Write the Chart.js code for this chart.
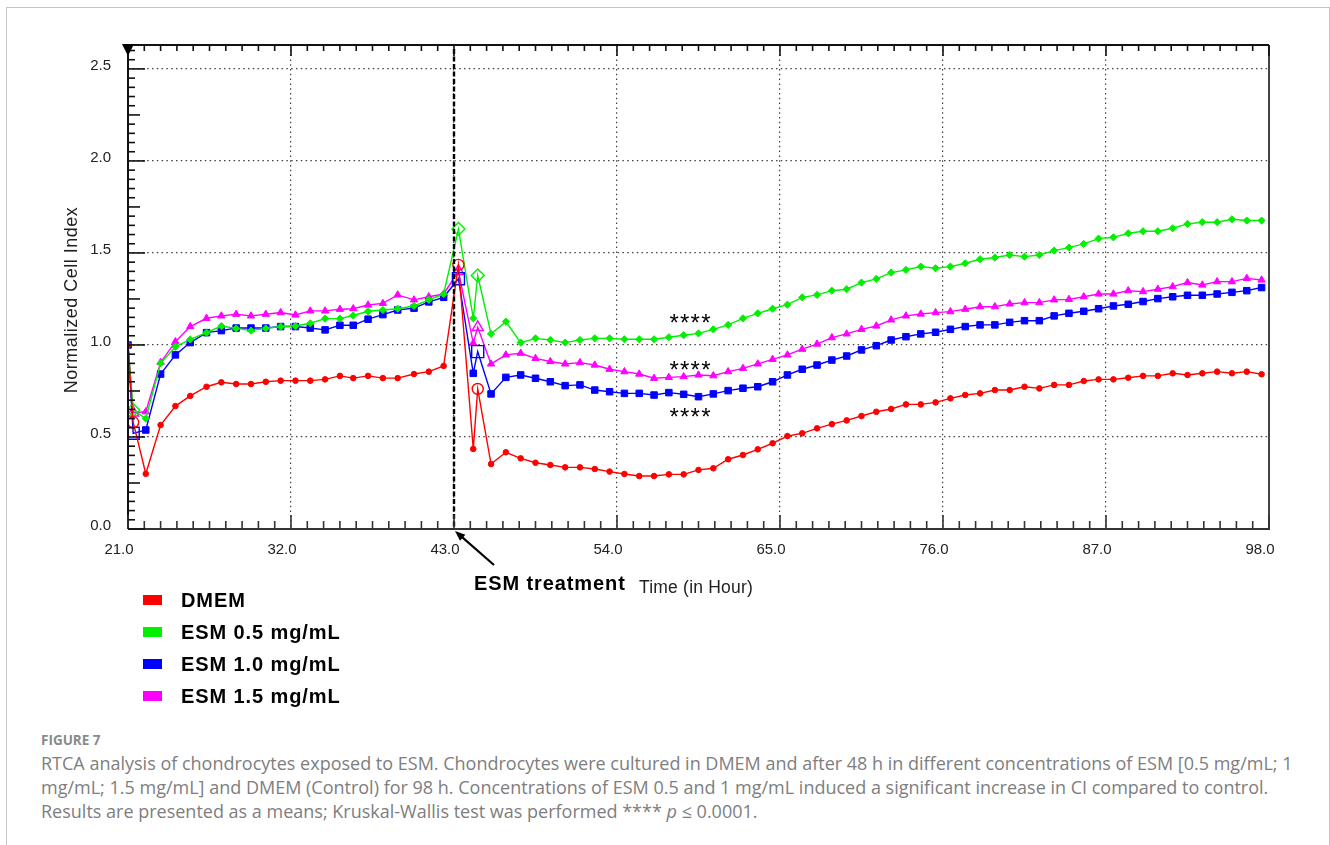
<!DOCTYPE html>
<html>
<head>
<meta charset="utf-8">
<script src="https://cdn.jsdelivr.net/npm/chart.js@4.4.1/dist/chart.umd.min.js"></script>
<style>
  html, body { margin: 0; padding: 0; background: #fff; }
  body { width: 1330px; height: 845px; position: relative; overflow: hidden; font-family: "Liberation Sans", Arial, sans-serif; }
  #frame { position: absolute; left: 6px; top: 7px; width: 1322px; height: 900px; border: 1px solid #c4c4c4; border-bottom: none; }
  #chartBox { position: absolute; left: 0; top: 0; width: 1330px; height: 620px; }
  .leg { position: absolute; left: 143px; height: 24px; white-space: nowrap; font: bold 20px "Liberation Sans", Arial, sans-serif; letter-spacing: 0.9px; color: #000; }
  .leg i { position: absolute; left: 0; top: 7px; width: 19px; height: 10px; }
  .leg span { position: absolute; left: 38px; top: 0; line-height: 24px; }
  .cap { position: absolute; left: 41px; white-space: nowrap; font-family: "Open Sans", sans-serif; color: #7e7e7e; }
  .fig { font-size: 13.5px; font-weight: 700; color: #8a8a8a; line-height: 18px; }
  .line { font-size: 18px; line-height: 24px; }
</style>
</head>
<body>
<div id="frame"></div>
<div id="chartBox"><canvas id="rtcaChart"></canvas></div>
<div id="legend"></div>
<div class="cap fig" style="top:731px">FIGURE 7</div>
<div class="cap line" style="top:751px">RTCA analysis of chondrocytes exposed to ESM. Chondrocytes were cultured in DMEM and after 48 h in different concentrations of ESM [0.5 mg/mL; 1</div>
<div class="cap line" style="top:775px">mg/mL; 1.5 mg/mL] and DMEM (Control) for 98 h. Concentrations of ESM 0.5 and 1 mg/mL induced a significant increase in CI compared to control.</div>
<div class="cap line" style="top:799px">Results are presented as a means; Kruskal-Wallis test was performed **** <i>p</i> ≤ 0.0001.</div>
<script>
// time points (h)
const HOURS = [21.0, 21.35, 22.2, 23.2, 24.2, 25.2, 26.3, 27.3, 28.3, 29.3, 30.3, 31.3, 32.3, 33.3, 34.3, 35.3, 36.2, 37.2, 38.2, 39.2, 40.3, 41.3, 42.3,
  43.3, 44.3, 44.6,
  45.5, 46.5, 47.5, 48.5, 49.5, 50.5, 51.5, 52.5, 53.5, 54.5, 55.5, 56.5, 57.5, 58.5, 59.5, 60.5, 61.5, 62.5, 63.5, 64.5, 65.5, 66.5, 67.5, 68.5,
  69.5, 70.5, 71.5, 72.5, 73.5, 74.5, 75.5, 76.5, 77.5, 78.5, 79.5, 80.5, 81.5, 82.5, 83.5, 84.5, 85.5, 86.5, 87.5, 88.5, 89.5, 90.5, 91.5, 92.5, 93.5, 94.5, 95.5, 96.5, 97.5];

const DMEM = [1.00, 0.58,
  0.300, 0.565, 0.668, 0.723, 0.773, 0.797, 0.788, 0.788, 0.800, 0.806, 0.806, 0.806, 0.813, 0.832, 0.820, 0.832, 0.820, 0.820, 0.842, 0.855, 0.886,
  1.435, 0.435, 0.761,
  0.353, 0.417, 0.384, 0.360, 0.348, 0.335, 0.335, 0.326, 0.312, 0.299, 0.288, 0.288, 0.297, 0.297, 0.321, 0.330, 0.379, 0.402, 0.433, 0.466, 0.505, 0.520, 0.547, 0.570,
  0.590, 0.614, 0.637, 0.652, 0.677, 0.677, 0.688, 0.710, 0.728, 0.737, 0.755, 0.755, 0.773, 0.764, 0.783, 0.783, 0.804, 0.813, 0.813, 0.822, 0.832, 0.832, 0.846, 0.837, 0.846, 0.855, 0.846, 0.855, 0.841];

const ESM_05 = [1.00, 0.647,
  0.600, 0.900, 0.990, 1.030, 1.067, 1.103, 1.090, 1.078, 1.090, 1.100, 1.103, 1.118, 1.143, 1.143, 1.160, 1.183, 1.190, 1.197, 1.212, 1.245, 1.277,
  1.630, 1.145, 1.377,
  1.060, 1.127, 1.013, 1.036, 1.027, 1.013, 1.027, 1.036, 1.036, 1.031, 1.031, 1.031, 1.042, 1.053, 1.063, 1.085, 1.109, 1.145, 1.172, 1.197, 1.219, 1.259, 1.272, 1.295,
  1.303, 1.339, 1.359, 1.393, 1.408, 1.426, 1.417, 1.426, 1.444, 1.466, 1.475, 1.489, 1.480, 1.489, 1.513, 1.529, 1.549, 1.578, 1.585, 1.607, 1.618, 1.618, 1.634, 1.658, 1.667, 1.667, 1.683, 1.676, 1.676];

const ESM_10 = [1.00, 0.52,
  0.538, 0.842, 0.946, 1.013, 1.067, 1.078, 1.092, 1.092, 1.092, 1.100, 1.100, 1.092, 1.082, 1.107, 1.107, 1.140, 1.165, 1.190, 1.200, 1.234, 1.259,
  1.360, 0.846, 0.964,
  0.734, 0.824, 0.837, 0.819, 0.800, 0.779, 0.783, 0.755, 0.746, 0.737, 0.737, 0.728, 0.741, 0.732, 0.719, 0.734, 0.752, 0.765, 0.773, 0.800, 0.837, 0.868, 0.891, 0.918,
  0.940, 0.973, 0.996, 1.027, 1.045, 1.060, 1.069, 1.085, 1.100, 1.109, 1.109, 1.123, 1.132, 1.132, 1.158, 1.172, 1.183, 1.197, 1.212, 1.221, 1.236, 1.252, 1.262, 1.270, 1.270, 1.277, 1.286, 1.295, 1.312];

const ESM_15 = [1.00, 0.632,
  0.637, 0.905, 1.018, 1.100, 1.145, 1.158, 1.167, 1.158, 1.167, 1.176, 1.163, 1.185, 1.185, 1.194, 1.197, 1.217, 1.226, 1.272, 1.245, 1.262, 1.277,
  1.400, 1.010, 1.096,
  0.897, 0.946, 0.955, 0.927, 0.910, 0.897, 0.904, 0.891, 0.868, 0.855, 0.842, 0.819, 0.824, 0.828, 0.837, 0.833, 0.855, 0.873, 0.897, 0.922, 0.946, 0.977, 1.005, 1.040,
  1.060, 1.085, 1.103, 1.136, 1.158, 1.168, 1.176, 1.181, 1.194, 1.208, 1.208, 1.223, 1.230, 1.230, 1.245, 1.248, 1.262, 1.277, 1.277, 1.295, 1.290, 1.303, 1.317, 1.339, 1.326, 1.344, 1.344, 1.362, 1.353];

const SERIES_NAMES = ['DMEM', 'ESM 0.5 mg/mL', 'ESM 1.0 mg/mL', 'ESM 1.5 mg/mL'];
const X_TICKS = [21, 32, 43, 54, 65, 76, 87, 98];
const Y_TICKS = [0, 0.5, 1.0, 1.5, 2.0, 2.5];
const TREATMENT_HOUR = 43.0;
// significance marks: [hour, CI]
const STAR_HOURS = [58.9, 58.9, 58.9];
const STAR_VALUES = [1.152, 0.897, 0.641];
// readings drawn as open markers
const OPEN_POINTS = [1, 23, 25];

const styles = [
  { color: '#ff0000', shape: 'circle', r: 2.8, rOpen: 5.5 },
  { color: '#00f000', shape: 'rectRot', r: 3.6, rOpen: 6.5 },
  { color: '#0000ff', shape: 'rect', r: 4.6, rOpen: 8.5 },
  { color: '#ff00ff', shape: 'triangle', r: 4.2, rOpen: 6.5 }
];
const values = [DMEM, ESM_05, ESM_10, ESM_15];

// legend
const legend = document.getElementById('legend');
const legendTops = [588, 620, 652, 684];
SERIES_NAMES.forEach((name, i) => {
  const row = document.createElement('div');
  row.className = 'leg';
  row.style.top = legendTops[i] + 'px';
  row.innerHTML = `<i style="background:${styles[i].color}"></i><span>${name}</span>`;
  legend.appendChild(row);
});

const decor = {
  id: 'decor',
  afterDatasetsDraw(chart) {
    const { ctx, chartArea: a, scales: { x, y } } = chart;
    ctx.save();

    // ESM treatment line
    const tx = x.getPixelForValue(TREATMENT_HOUR);
    ctx.strokeStyle = '#000';
    ctx.lineWidth = 2.4;
    ctx.setLineDash([5, 2.5]);
    ctx.beginPath(); ctx.moveTo(tx, a.top + 4); ctx.lineTo(tx, a.bottom); ctx.stroke();
    ctx.setLineDash([]);

    // frame
    ctx.lineWidth = 2;
    ctx.strokeStyle = '#111';
    ctx.beginPath(); ctx.moveTo(a.left, a.top); ctx.lineTo(a.right, a.top); ctx.stroke();
    ctx.beginPath(); ctx.moveTo(a.left, a.top); ctx.lineTo(a.left, a.bottom); ctx.stroke();
    ctx.strokeStyle = '#333';
    ctx.beginPath(); ctx.moveTo(a.left, a.bottom); ctx.lineTo(a.right + 1, a.bottom); ctx.stroke();
    ctx.strokeStyle = '#444';
    ctx.beginPath(); ctx.moveTo(a.right, a.top); ctx.lineTo(a.right, a.bottom); ctx.stroke();

    // minor ticks, time axis (top and bottom)
    ctx.lineWidth = 1.6;
    for (let i = 0; i <= 70; i++) {
      const px = x.getPixelForValue(21 + i * 1.1);
      const major = i % 10 === 0;
      ctx.strokeStyle = '#111';
      ctx.beginPath(); ctx.moveTo(px, a.top); ctx.lineTo(px, a.top + (major ? 11 : 6)); ctx.stroke();
      ctx.strokeStyle = '#333';
      ctx.beginPath(); ctx.moveTo(px, a.bottom); ctx.lineTo(px, a.bottom - (major ? 14 : 8)); ctx.stroke();
    }
    // minor ticks, CI axis
    ctx.strokeStyle = '#111';
    for (let i = 0; i <= 52; i++) {
      const py = y.getPixelForValue(i * 0.05);
      const len = i % 10 === 0 ? 17 : (i % 5 === 0 ? 12 : 7);
      ctx.beginPath(); ctx.moveTo(a.left, py); ctx.lineTo(a.left + len, py); ctx.stroke();
    }

    // small marker in the top-left corner
    ctx.fillStyle = '#000';
    ctx.beginPath();
    ctx.moveTo(a.left - 6, a.top - 1); ctx.lineTo(a.left + 6, a.top - 1); ctx.lineTo(a.left, a.top + 11);
    ctx.closePath(); ctx.fill();

    // arrow to the treatment time
    const tipX = tx + 1, tipY = a.bottom + 2;
    const tailX = tx + 40, tailY = a.bottom + 36;
    const ang = Math.atan2(tipY - tailY, tipX - tailX);
    ctx.strokeStyle = '#000';
    ctx.lineWidth = 2.2;
    ctx.beginPath(); ctx.moveTo(tailX, tailY); ctx.lineTo(tipX - 6 * Math.cos(ang), tipY - 6 * Math.sin(ang)); ctx.stroke();
    ctx.beginPath();
    ctx.moveTo(tipX, tipY);
    ctx.lineTo(tipX - 11 * Math.cos(ang - 0.38), tipY - 11 * Math.sin(ang - 0.38));
    ctx.lineTo(tipX - 11 * Math.cos(ang + 0.38), tipY - 11 * Math.sin(ang + 0.38));
    ctx.closePath(); ctx.fill();

    // texts
    ctx.fillStyle = '#000';
    ctx.textBaseline = 'alphabetic';
    ctx.textAlign = 'left';
    ctx.font = 'bold 20px "Liberation Sans", Arial, sans-serif';
    ctx.letterSpacing = '0.9px';
    ctx.fillText('ESM treatment', tx + 20, a.bottom + 61);
    ctx.font = '17.5px "Liberation Sans", Arial, sans-serif';
    ctx.letterSpacing = '0.2px';
    ctx.fillStyle = '#222';
    ctx.fillText('Time (in Hour)', tx + 185, a.bottom + 64);

    ctx.save();
    ctx.translate(a.left - 51, a.top + 255);
    ctx.rotate(-Math.PI / 2);
    ctx.textAlign = 'center';
    ctx.font = '18px "Liberation Sans", Arial, sans-serif';
    ctx.letterSpacing = '0.5px';
    ctx.fillText('Normalized Cell Index', 0, 0);
    ctx.restore();

    ctx.fillStyle = '#000';
    ctx.textAlign = 'center';
    ctx.font = '24px "Liberation Sans", Arial, sans-serif';
    ctx.letterSpacing = '1.2px';
    STAR_HOURS.forEach((h, i) => {
      ctx.fillText('****', x.getPixelForValue(h) + 1, y.getPixelForValue(STAR_VALUES[i]) + 14);
    });
    ctx.restore();
  }
};

new Chart(document.getElementById('rtcaChart'), {
  type: 'line',
  data: {
    datasets: values.map((vals, i) => {
      const s = styles[i];
      return {
        label: SERIES_NAMES[i],
        data: HOURS.map((h, k) => ({ x: h, y: vals[k] })),
        borderColor: s.color,
        borderWidth: 1.4,
        tension: 0,
        pointStyle: s.shape,
        pointRadius: c => OPEN_POINTS.includes(c.dataIndex) ? s.rOpen : s.r,
        pointBackgroundColor: c => OPEN_POINTS.includes(c.dataIndex) ? 'rgba(255,255,255,0)' : s.color,
        pointBorderColor: s.color,
        pointBorderWidth: c => OPEN_POINTS.includes(c.dataIndex) ? 1.4 : 1,
        pointHoverRadius: 5
      };
    })
  },
  options: {
    responsive: true,
    maintainAspectRatio: false,
    animation: false,
    layout: { padding: { left: 0, top: 45, right: 61, bottom: 51 } },
    plugins: { legend: { display: false }, tooltip: { enabled: false } },
    scales: {
      x: {
        type: 'linear',
        min: 21,
        max: 98,
        afterBuildTicks: sc => { sc.ticks = X_TICKS.map(v => ({ value: v })); },
        afterFit: sc => { sc.height = 40; },
        grid: { color: '#444', lineWidth: 1.2, drawTicks: false },
        border: { display: false, dash: [1.5, 3.3] },
        ticks: {
          callback: v => v.toFixed(1),
          font: { family: '"Liberation Sans", Arial, sans-serif', size: 15 },
          color: '#222',
          padding: 12,
          labelOffset: -9,
          maxRotation: 0
        }
      },
      y: {
        min: 0,
        max: 2.63,
        afterBuildTicks: sc => { sc.ticks = Y_TICKS.map(v => ({ value: v })); },
        afterFit: sc => { sc.width = 128; },
        grid: { color: '#444', lineWidth: 1.2, drawTicks: false },
        border: { display: false, dash: [1.5, 3.3] },
        ticks: {
          callback: v => v.toFixed(1),
          font: { family: '"Liberation Sans", Arial, sans-serif', size: 15 },
          color: '#222',
          padding: 17,
          labelOffset: -3
        }
      }
    }
  },
  plugins: [decor]
});
</script>
</body>
</html>
